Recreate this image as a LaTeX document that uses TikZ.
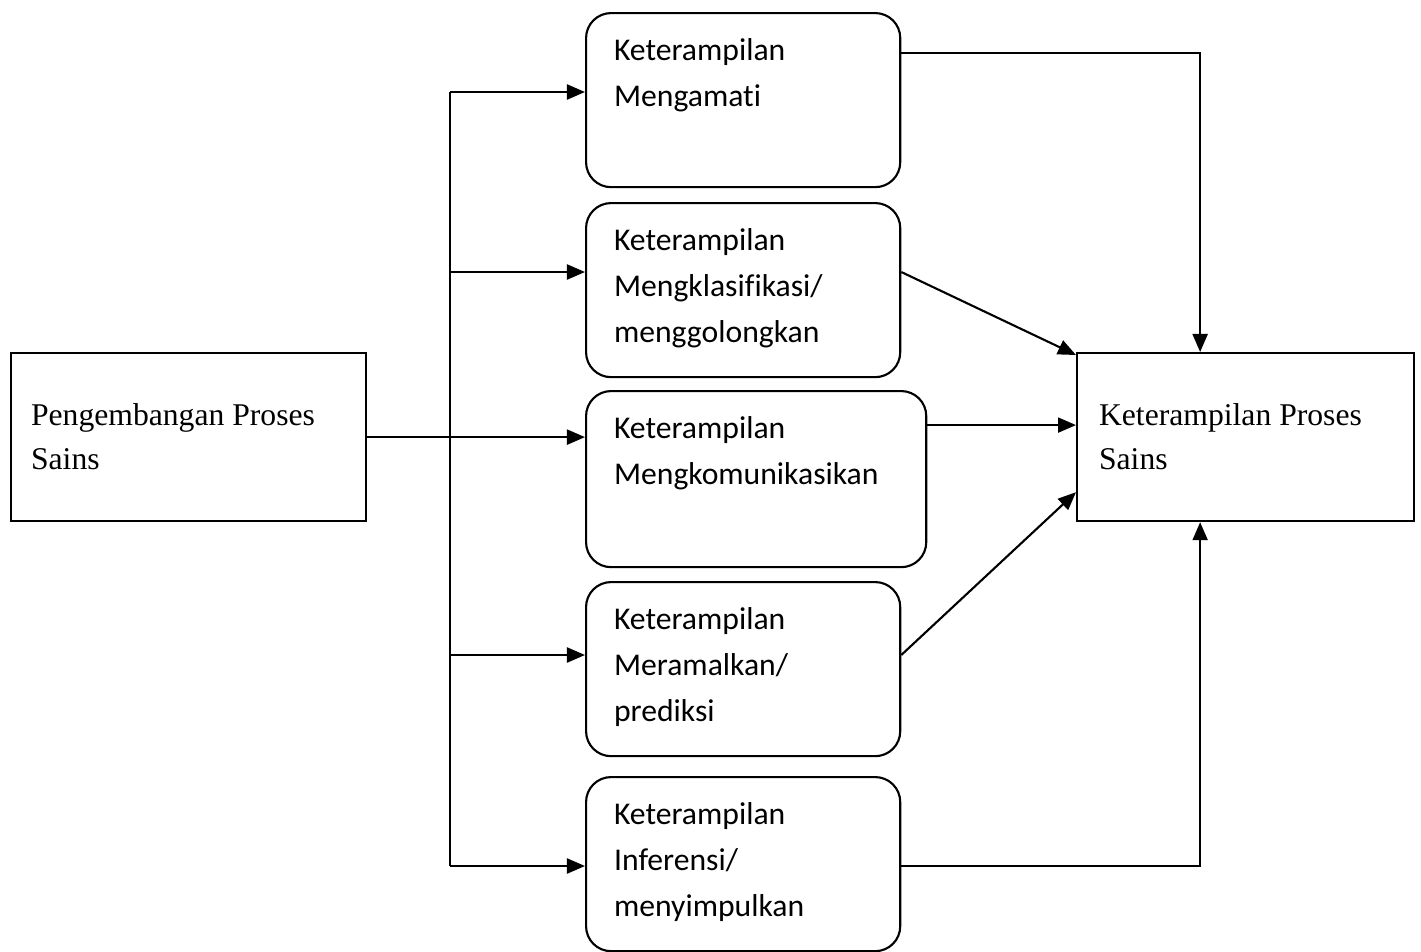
\documentclass[tikz,border=0pt]{standalone}
\usepackage{fontspec}
\setmainfont{Liberation Serif}
\newfontfamily\calibri[Ligatures=CommonOff]{Carlito}
\usetikzlibrary{arrows.meta, positioning, calc}

\begin{document}
\begin{tikzpicture}[x=0.01cm, y=-0.01cm, line width=0.6pt,
    arr/.style={-{Triangle[length=0.18cm, width=0.15cm]}},
    plainbox/.style={draw, rectangle, anchor=north west, minimum height=1.68cm,
        align=flush left, font=\fontsize{9}{12.5}\selectfont},
    skillbox/.style={draw, rounded corners=0.25cm, anchor=north west,
        minimum width=3.14cm, minimum height=1.74cm},
    skilltext/.style={anchor=north west, align=left, inner sep=0pt,
        font=\calibri\fontsize{9}{13.1}\selectfont}]
    \useasboundingbox (0,0) rectangle (1421,951);

    % Side boxes
    \node[plainbox, inner xsep=0.2cm, text width=3.15cm] (src) at (10,352)
        {Pengembangan Proses\\Sains};
    \node[plainbox, inner xsep=0.22cm, text width=2.93cm] (tgt) at (1076,352)
        {Keterampilan Proses\\Sains};

    % Skill boxes
    \node[skillbox] (m1) at (585,12) {};
    \node[skillbox] (m2) at (585,202) {};
    \node[skillbox, minimum width=3.4cm, minimum height=1.76cm] (m3) at (585,390) {};
    \node[skillbox] (m4) at (585,581) {};
    \node[skillbox] (m5) at (585,776) {};

    \node[skilltext] (m1txt) at ([shift={(0.28cm,-0.25cm)}]m1.north west)
        {Keterampilan\\Mengamati};
    \node[skilltext] (m2txt) at ([shift={(0.28cm,-0.25cm)}]m2.north west)
        {Keterampilan\\Mengklasifikasi/\\menggolongkan};
    \node[skilltext] (m3txt) at ([shift={(0.28cm,-0.25cm)}]m3.north west)
        {Keterampilan\\Mengkomunikasikan};
    \node[skilltext] (m4txt) at ([shift={(0.28cm,-0.25cm)}]m4.north west)
        {Keterampilan\\Meramalkan/\\prediksi};
    \node[skilltext] (m5txt) at ([shift={(0.28cm,-0.25cm)}]m5.north west)
        {Keterampilan\\Inferensi/\\menyimpulkan};

    % Trunk on the left
    \coordinate (t1) at (450,92);
    \coordinate (t2) at (450,272);
    \coordinate (t4) at (450,655);
    \coordinate (t5) at (450,866);
    \draw (t1) -- (t5);
    \draw[arr] (t1) -- (m1.west |- t1);
    \draw[arr] (t2) -- (m2.west |- t2);
    \draw[arr] (src.east) -- (m3.west |- src.east);
    \draw[arr] (t4) -- (m4.west |- t4);
    \draw[arr] (t5) -- (m5.west |- t5);

    % Into the result box
    \draw[arr] ([yshift=0.47cm]m1.east) -| ([xshift=-0.455cm]tgt.north);
    \draw[arr] (m2.east |- t2) -- ([yshift=-0.03cm]tgt.north west);
    \draw[arr] ([yshift=0.54cm]m3.east) coordinate (c3) -- (tgt.west |- c3);
    \draw[arr] (m4.east |- t4) -- ([yshift=0.3cm]tgt.south west);
    \draw[arr] (m5.east |- t5) -| ([xshift=-0.455cm]tgt.south);
\end{tikzpicture}
\end{document}
